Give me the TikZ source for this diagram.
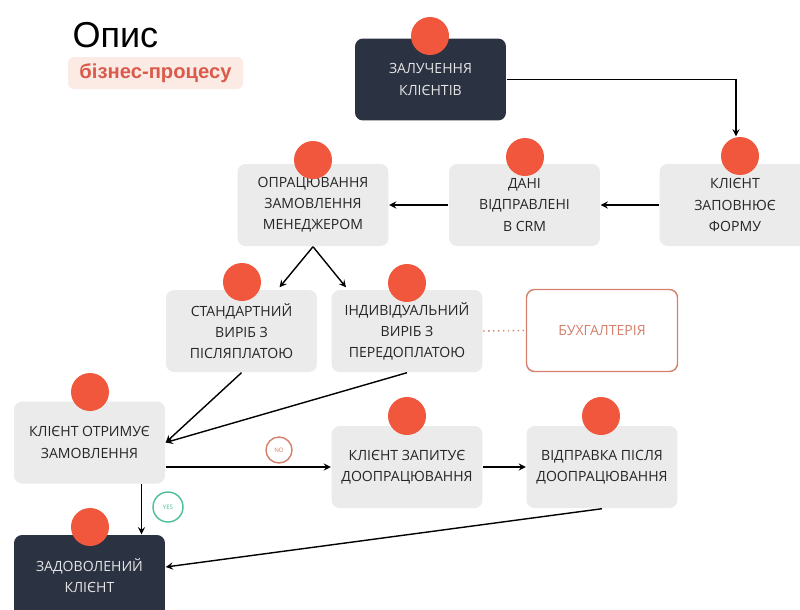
\documentclass[tikz,border=0pt]{standalone}
\usepackage{fontspec}
\setmainfont{Open Sans}
\newfontfamily\titelfont{Liberation Sans}
\usetikzlibrary{calc}

\definecolor{kastengrau}{HTML}{EBEBEB}
\definecolor{dunkel}{HTML}{2B3242}
\definecolor{punkt}{HTML}{F1573C}
\definecolor{rostrot}{HTML}{D4806C}
\definecolor{rosa}{HTML}{FCEAE5}
\definecolor{titelrot}{HTML}{DA5A4B}
\definecolor{gruen}{HTML}{4DBF95}

\tikzset{
	kasten/.style={rounded corners=0.16cm, fill=kastengrau, minimum width=3.02cm,
		minimum height=1.64cm, align=center, text=black!85,
		font=\fontsize{8}{12}\selectfont},
	dunkelkasten/.style={kasten, fill=dunkel, text=white!90!black},
	punktkreis/.style={circle, fill=punkt, minimum size=0.76cm, inner sep=0pt},
	marke/.style={circle, draw, thick, inner sep=0pt, font=\fontsize{3.5}{4}\selectfont}
}

\begin{document}
\begin{tikzpicture}[x=0.02cm, y=-0.02cm, >=stealth, line width=0.8pt]
	\clip (0,0) rectangle (800,609);
	\fill[white] (0,0) rectangle (800,609);
	% Titel
	\node[anchor=west, font=\titelfont\fontsize{20.5}{24}\selectfont] (titel) at (66, 35) {Опис};
	\fill[rosa, rounded corners=0.12cm] (68, 57) rectangle (243, 89);
	\node[text=titelrot, font=\titelfont\bfseries\fontsize{11.5}{14}\selectfont] (untertitel) at (155.5, 73) {бізнес-процесу};

	% Kästen
	\node[dunkelkasten] (zal) at (430.5, 79.5) {ЗАЛУЧЕННЯ\\КЛІЄНТІВ};
	\node[kasten] (form) at (735, 205) {КЛІЄНТ\\ЗАПОВНЮЄ\\ФОРМУ};
	\node[kasten] (crm) at (524.5, 205) {ДАНІ\\ВІДПРАВЛЕНІ\\В CRM};
	\node[kasten] (opr) at (313, 205) {ОПРАЦЮВАННЯ\\ЗАМОВЛЕННЯ\\МЕНЕДЖЕРОМ};
	\node[kasten] (std) at (241.5, 331) {СТАНДАРТНИЙ\\ВИРІБ З\\ПІСЛЯПЛАТОЮ};
	\node[kasten] (ind) at (407, 331) {ІНДИВІДУАЛЬНИЙ\\ВИРІБ З\\ПЕРЕДОПЛАТОЮ};
	\node[kasten, fill=white, draw=rostrot, text=rostrot] (buh) at (602, 330.5) {БУХГАЛТЕРІЯ};
	\node[kasten] (otr) at (89.5, 442.5) {КЛІЄНТ ОТРИМУЄ\\ЗАМОВЛЕННЯ};
	\node[kasten] (zap) at (407, 467) {КЛІЄНТ ЗАПИТУЄ\\ДООПРАЦЮВАННЯ};
	\node[kasten] (vid) at (602, 467) {ВІДПРАВКА ПІСЛЯ\\ДООПРАЦЮВАННЯ};
	\node[dunkelkasten] (zad) at (89.5, 576) {ЗАДОВОЛЕНИЙ\\КЛІЄНТ};

	% Punkte
	\node[punktkreis] (pzal) at (430, 36) {};
	\node[punktkreis] (pform) at (740, 156) {};
	\node[punktkreis] (pcrm) at (525, 157) {};
	\node[punktkreis] (popr) at (313, 160) {};
	\node[punktkreis] (pstd) at (242, 282) {};
	\node[punktkreis] (pind) at (407, 283) {};
	\node[punktkreis] (potr) at (90, 392) {};
	\node[punktkreis] (pzap) at (407, 416) {};
	\node[punktkreis] (pvid) at (601, 416) {};
	\node[punktkreis] (pzad) at (90, 527) {};

	% Pfeile
	\draw[->] (zal.east) -| ($(pform.north)+(-4,0)$);
	\draw[->] (form.west) -- (crm.east);
	\draw[->] (crm.west) -- (opr.east);
	\draw[->] (opr.south) -- ($(std.north)+(38,-2)$);
	\draw[->] (opr.south) -- ($(ind.north)+(-61,-2)$);
	\draw[->] (std.south) -- (otr.east);
	\draw[->] (ind.south) -- (otr.east);
	\draw[rostrot, dotted, thick] (ind.east) -- (buh.west);
	\draw[->] (zap.west -| otr.east) -- (zap.west);
	\draw[->] (zap.east) -- (vid.west);
	\draw[->] ($(otr.south)+(52,0)$) -- ($(zad.north)+(52,0)$);
	\draw[->] (vid.south) -- ($(zad.east)+(0,-9)$);

	% Marken
	\node[marke, draw=rostrot, text=rostrot, minimum size=0.52cm] (nein) at (279, 450) {NO};
	\node[marke, draw=gruen, text=gruen, minimum size=0.6cm] (ja) at (168, 507) {YES};
\end{tikzpicture}
\end{document}
